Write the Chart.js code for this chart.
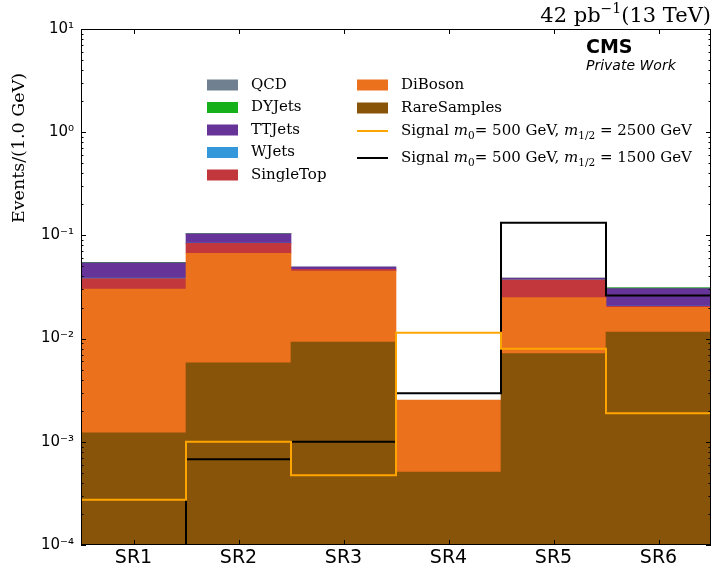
<!DOCTYPE html>
<html>
<head>
<meta charset="utf-8">
<script src="https://cdn.jsdelivr.net/npm/chart.js@4/dist/chart.umd.min.js"></script>
<style>
  html, body { margin: 0; padding: 0; background: #ffffff; }
  #wrap { width: 713px; height: 575px; }
</style>
</head>
<body>
<div id="wrap"><canvas id="c" width="713" height="575"></canvas></div>
<script>
// Signal regions (bins) and per-process event yields
const regions = ['SR1', 'SR2', 'SR3', 'SR4', 'SR5', 'SR6'];

const rareSamples = [0.00122, 0.00581, 0.00927, 0.00051, 0.00714, 0.01159];
const diBoson     = [0.0289, 0.0613, 0.0359, 0.00203, 0.0178, 0.0085];
const singleTop   = [0.0080, 0.0167, 0.0017, 0, 0.0121, 0.0004];
const wJets       = [0.0004, 0.0003, 0, 0, 0.0003, 0.0002];
const ttJets      = [0.0156, 0.0195, 0.0025, 0, 0.0010, 0.0098];
const dyJets      = [0.0003, 0.0001, 0, 0, 0.0001, 0.0005];
const qcd         = [0.0004, 0.0005, 0.0001, 0, 0.0004, 0.0001];

// Signal hypotheses (SR1 of the 1500 GeV point is essentially empty)
const signal2500 = [0.000275, 0.00100, 0.000473, 0.0114, 0.00798, 0.00189];
const signal1500 = [1e-6, 0.000676, 0.00100, 0.00295, 0.1327, 0.0261];

// Decade ticks of the log axis
const yTickValues = [1e-4, 1e-3, 1e-2, 1e-1, 1, 10];
const yTickLabels = ['10\u207B\u2074', '10\u207B\u00B3', '10\u207B\u00B2', '10\u207B\u00B9', '10\u2070', '10\u00B9'];

// Backgrounds listed bottom-to-top of the stack
const backgrounds = [
  { label: 'RareSamples', data: rareSamples, color: '#875409' },
  { label: 'DiBoson',     data: diBoson,     color: '#eb711d' },
  { label: 'SingleTop',   data: singleTop,   color: '#c2373b' },
  { label: 'WJets',       data: wJets,       color: '#3498db' },
  { label: 'TTJets',      data: ttJets,      color: '#663399' },
  { label: 'DYJets',      data: dyJets,      color: '#15b01a' },
  { label: 'QCD',         data: qcd,         color: '#708090' }
];

// Signal outlines; the first one is drawn on top
const signals = [
  { label: 'Signal m_{0}= 500 GeV, m_{1/2} = 2500 GeV', data: signal2500, color: '#ffa500' },
  { label: 'Signal m_{0}= 500 GeV, m_{1/2} = 1500 GeV', data: signal1500, color: '#000000' }
];

// Histogram outline: each bin contributes its left and right edge at the bin height
function stepPoints(values) {
  const pts = [];
  values.forEach((v, i) => {
    pts.push({ x: i, y: v });
    pts.push({ x: i + 1, y: v });
  });
  return pts;
}

const datasets = [];
backgrounds.forEach(b => {
  datasets.push({
    type: 'bar',
    label: b.label,
    data: b.data,
    backgroundColor: b.color,
    borderWidth: 0,
    xAxisID: 'x',
    yAxisID: 'y',
    stack: 'bkg',
    grouped: false,
    barPercentage: 1.0,
    categoryPercentage: 1.0,
    order: 3
  });
});
signals.forEach((s, i) => {
  datasets.push({
    type: 'line',
    label: s.label,
    data: stepPoints(s.data),
    borderColor: s.color,
    backgroundColor: s.color,
    borderWidth: 2,
    pointRadius: 0,
    fill: false,
    tension: 0,
    xAxisID: 'xs',
    yAxisID: 'y',
    stack: 'sig' + i,
    order: i
  });
});

const SANS = '"DejaVu Sans", sans-serif';
const SERIF = '"DejaVu Serif", serif';

// Frame, inward ticks, annotations and legend
const decorations = {
  id: 'decorations',
  afterDraw(chart) {
    const ctx = chart.ctx;
    const a = chart.chartArea;
    const ys = chart.scales.y;
    const xs = chart.scales.x;
    ctx.save();

    // axes frame
    ctx.strokeStyle = '#000';
    ctx.lineWidth = 1;
    ctx.strokeRect(Math.round(a.left) + 0.5, Math.round(a.top) + 0.5,
                   Math.round(a.right - a.left) - 1, Math.round(a.bottom - a.top) - 1);

    // y ticks (major + minor), on both sides, pointing inward
    ctx.beginPath();
    for (let d = -4; d <= 1; d++) {
      const major = Math.pow(10, d);
      const py = Math.round(ys.getPixelForValue(major)) + 0.5;
      ctx.moveTo(a.left, py); ctx.lineTo(a.left + 5, py);
      ctx.moveTo(a.right, py); ctx.lineTo(a.right - 5, py);
      if (d < 1) {
        for (let k = 2; k <= 9; k++) {
          const my = Math.round(ys.getPixelForValue(k * major)) + 0.5;
          ctx.moveTo(a.left, my); ctx.lineTo(a.left + 2.5, my);
          ctx.moveTo(a.right, my); ctx.lineTo(a.right - 2.5, my);
        }
      }
    }
    // x ticks at bin centres, top and bottom
    regions.forEach((r, i) => {
      const px = Math.round(xs.getPixelForValue(i)) + 0.5;
      ctx.moveTo(px, a.bottom); ctx.lineTo(px, a.bottom - 5);
      ctx.moveTo(px, a.top); ctx.lineTo(px, a.top + 5);
    });
    ctx.stroke();

    // y-axis title
    ctx.fillStyle = '#000';
    ctx.save();
    ctx.translate(19, 148);
    ctx.rotate(-Math.PI / 2);
    ctx.font = '17.5px ' + SERIF;
    ctx.textAlign = 'center';
    ctx.textBaseline = 'middle';
    ctx.fillText('Events/(1.0 GeV)', 0, 0);
    ctx.restore();

    // luminosity label
    ctx.textBaseline = 'alphabetic';
    ctx.textAlign = 'left';
    const lumiParts = [
      { t: '42 pb', f: '21px ' + SERIF, dy: 0 },
      { t: '\u22121', f: '14px ' + SERIF, dy: -9 },
      { t: '(13 TeV)', f: '21px ' + SERIF, dy: 0 }
    ];
    let total = 0;
    lumiParts.forEach(p => { ctx.font = p.f; total += ctx.measureText(p.t).width; });
    let lx = 711 - total;
    lumiParts.forEach(p => {
      ctx.font = p.f;
      ctx.fillText(p.t, lx, 22 + p.dy);
      lx += ctx.measureText(p.t).width;
    });

    // experiment label
    ctx.font = 'bold 19px ' + SANS;
    ctx.fillText('CMS', 586, 53);
    ctx.font = 'italic 14px ' + SANS;
    ctx.fillText('Private Work', 586, 70);

    // legend
    const byLabel = {};
    chart.data.datasets.forEach(ds => { byLabel[ds.label] = ds; });
    const col1 = ['QCD', 'DYJets', 'TTJets', 'WJets', 'SingleTop'];
    const col2 = ['DiBoson', 'RareSamples', signals[0].label, signals[1].label];
    const rows1 = [85, 107.5, 130, 152.5, 175];
    const rows2 = [85, 108, 131, 158];

    function drawRich(label, x, y) {
      const parts = label.split(/(m_\{[^}]*\})/).filter(s => s.length);
      ctx.textBaseline = 'middle';
      let cx = x;
      parts.forEach(p => {
        const m = p.match(/^m_\{([^}]*)\}$/);
        if (m) {
          ctx.font = 'italic 15px ' + SERIF;
          ctx.fillText('m', cx, y);
          cx += ctx.measureText('m').width;
          ctx.font = '10.5px ' + SERIF;
          ctx.fillText(m[1], cx, y + 5);
          cx += ctx.measureText(m[1]).width;
        } else {
          ctx.font = '15px ' + SERIF;
          ctx.fillText(p, cx, y);
          cx += ctx.measureText(p).width;
        }
      });
    }

    function drawEntry(name, px, tx, y) {
      const ds = byLabel[name];
      if (ds.type === 'line') {
        ctx.strokeStyle = ds.borderColor;
        ctx.lineWidth = 2;
        ctx.beginPath();
        ctx.moveTo(px, y); ctx.lineTo(px + 31, y);
        ctx.stroke();
      } else {
        ctx.fillStyle = ds.backgroundColor;
        ctx.fillRect(px, y - 5.5, 31, 11);
      }
      ctx.fillStyle = '#000';
      drawRich(name, tx, y);
    }
    col1.forEach((n, i) => drawEntry(n, 207, 251, rows1[i]));
    col2.forEach((n, i) => drawEntry(n, 357, 401, rows2[i]));

    ctx.restore();
  }
};

new Chart(document.getElementById('c'), {
  type: 'bar',
  data: { labels: regions, datasets },
  options: {
    responsive: false,
    devicePixelRatio: 1,
    animation: false,
    layout: { padding: { top: 29, right: 2, left: 0, bottom: 0 } },
    plugins: {
      legend: { display: false },
      tooltip: { enabled: false },
      title: { display: false }
    },
    scales: {
      x: {
        type: 'category',
        stacked: true,
        offset: true,
        grid: { display: false, drawTicks: false },
        border: { display: false },
        ticks: { color: '#000', font: { family: SANS, size: 19 }, padding: 2, maxRotation: 0 },
        afterFit(s) { s.height = 30; }
      },
      xs: {
        type: 'linear',
        display: false,
        offset: false,
        grid: { offset: false },
        min: 0,
        max: regions.length
      },
      y: {
        type: 'logarithmic',
        stacked: true,
        min: 1e-4,
        max: 10,
        grid: { display: false, drawTicks: false },
        border: { display: false },
        afterBuildTicks(s) { s.ticks = yTickValues.map(v => ({ value: v })); },
        ticks: {
          color: '#000',
          font: { family: SANS, size: 15 },
          padding: 7,
          autoSkip: false,
          callback(value) {
            const i = yTickValues.findIndex(v => Math.abs(v - value) / v < 1e-6);
            return i >= 0 ? yTickLabels[i] : '';
          }
        },
        afterFit(s) { s.width = 81; }
      }
    }
  },
  plugins: [decorations]
});
</script>
</body>
</html>
